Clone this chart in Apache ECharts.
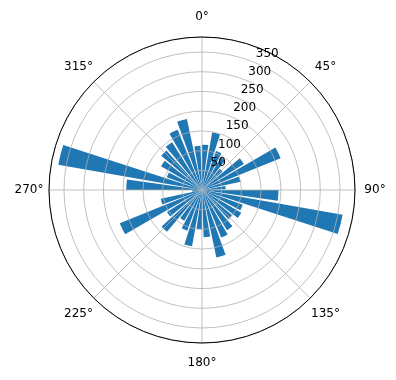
<!DOCTYPE html>
<html>
<head>
<meta charset="utf-8">
<script src="https://cdn.jsdelivr.net/npm/echarts@6/dist/echarts.min.js"></script>
<style>
html, body { margin: 0; padding: 0; background: #fff; }
#chart { width: 396px; height: 380px; }
</style>
</head>
<body>
<div id="chart"></div>
<script>
// direction bins, 10 degrees each (start of bin)
const binStarts = [0, 10, 20, 30, 40, 50, 60, 70, 80, 90, 100, 110, 120, 130, 140, 150, 160, 170,
	180, 190, 200, 210, 220, 230, 240, 250, 260, 270, 280, 290, 300, 310, 320, 330, 340, 350];
const counts = [115, 148, 105, 95, 70, 125, 215, 100, 60, 194, 362, 110, 115, 100, 120, 130, 175, 120,
	100, 145, 110, 90, 138, 105, 225, 107, 25, 192, 370, 95, 120, 135, 143, 165, 184, 112];
const radialTicks = [50, 100, 150, 200, 250, 300, 350];
const angleTicks = [0, 45, 90, 135, 180, 225, 270, 315];
const rMax = 388;

const font = 'DejaVu Sans';
const center = [202, 190];
const radius = 153;

const chart = echarts.init(document.getElementById('chart'));

const option = {
	animation: false,
	polar: [
		{ center: center, radius: radius },
		{ center: center, radius: radius }
	],
	angleAxis: [
		{
			polarIndex: 0,
			type: 'value', min: 0, max: 360, interval: 45,
			startAngle: 90, clockwise: true,
			axisLine: { lineStyle: { color: '#000', width: 1 } },
			axisTick: { show: false },
			axisLabel: {
				margin: 16,
				formatter: v => angleTicks.includes(v) ? '{c|' + v + '°}' : '',
				rich: {
					c: { width: 8, lineHeight: 8, align: 'center', verticalAlign: 'middle',
						fontFamily: font, fontSize: 12, color: '#000' }
				}
			},
			splitLine: { lineStyle: { color: '#b0b0b0', width: 0.8 } },
			z: 6
		},
		{
			polarIndex: 1,
			type: 'value', min: 0, max: 360,
			startAngle: 67.5, clockwise: true,
			show: false
		}
	],
	radiusAxis: [
		{
			polarIndex: 0,
			type: 'value', min: 0, max: rMax, interval: 50,
			axisLine: { show: false },
			axisTick: { show: false },
			axisLabel: { show: false },
			splitLine: { lineStyle: { color: '#b0b0b0', width: 0.8 } },
			z: 5
		},
		{
			polarIndex: 1,
			type: 'value', min: 0, max: rMax, interval: 50,
			axisLine: { show: false },
			axisTick: { show: false },
			splitLine: { show: false },
			axisLabel: {
				margin: 0,
				align: 'left', verticalAlign: 'bottom',
				padding: [0, 0, 3, 1],
				fontFamily: font, fontSize: 12, color: '#000',
				formatter: v => radialTicks.includes(v) ? String(v) : ''
			},
			z: 7
		}
	],
	series: [{
		type: 'bar',
		coordinateSystem: 'polar',
		polarIndex: 0,
		barWidth: '80%',
		data: counts.map((c, i) => [c, binStarts[i] + 4]),
		itemStyle: { color: '#1f77b4' },
		z: 2
	}]
};

chart.setOption(option);
</script>
</body>
</html>
